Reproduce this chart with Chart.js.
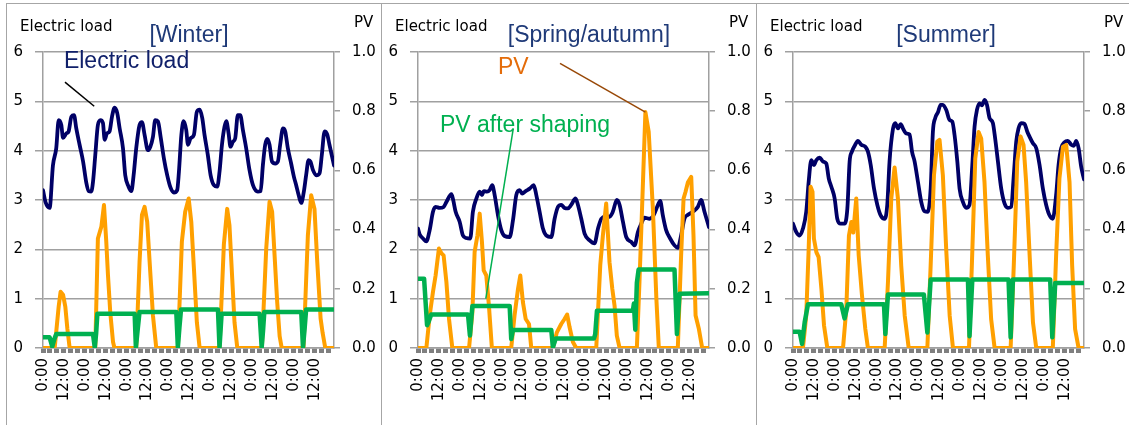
<!DOCTYPE html>
<html>
<head>
<meta charset="utf-8">
<title>Electric load and PV by season</title>
<script src="https://cdn.jsdelivr.net/npm/chart.js@4.4.0/dist/chart.umd.min.js"></script>
<style>
  html, body { margin: 0; padding: 0; background: #ffffff; }
  body { position: relative; width: 1129px; height: 425px; overflow: hidden; }
  canvas { position: absolute; top: 0; }
  .rule { position: absolute; background: #a6a6a6; }
</style>
</head>
<body>
<div class="rule" style="left:6px;top:3px;width:1123px;height:1px"></div>
<div class="rule" style="left:6px;top:3px;width:1px;height:422px"></div>
<div class="rule" style="left:381px;top:3px;width:1px;height:422px"></div>
<div class="rule" style="left:756px;top:3px;width:1px;height:422px"></div>
<canvas id="winter" width="373" height="425" style="left:7px"></canvas>
<canvas id="spring" width="373" height="425" style="left:382px"></canvas>
<canvas id="summer" width="373" height="425" style="left:757px"></canvas>
<script>
// Hour of the week (0-167) paired with value. Load on the left axis, PV (per unit) on the right axis.
const winterLoad = [[0,3.2],[1.5,2.95],[3.8,2.84],[5.7,3.7],[7.6,4.05],[9,4.62],[10.5,4.52],[11.5,4.26],[13.4,4.35],[14.7,4.39],[16.3,4.69],[17.8,4.72],[19.1,4.45],[21,4.12],[23,3.78],[24.9,3.34],[26.2,3.18],[27.7,3.17],[28.7,3.37],[30,3.91],[31.5,4.52],[33,4.62],[34.4,4.56],[35.4,4.22],[36.7,4.35],[38.2,4.39],[39.6,4.69],[41.1,4.87],[42.6,4.76],[44,4.45],[45.9,4.05],[47.2,3.5],[49.1,3.27],[50.7,3.18],[52,3.5],[53.5,4.05],[55.4,4.52],[56.8,4.58],[58.3,4.32],[60.2,4.01],[61.6,4.08],[63.1,4.28],[64.4,4.62],[66,4.59],[67.5,4.28],[69.4,3.84],[71.3,3.5],[73.2,3.25],[75.1,3.15],[77,3.2],[78,3.57],[79.4,4.32],[80.7,4.6],[82.2,4.42],[83.2,4.12],[84.7,4.25],[86.6,4.32],[88.3,4.79],[89.9,4.83],[91.4,4.66],[92.7,4.32],[94.6,3.91],[96.2,3.5],[98.1,3.3],[100,3.27],[101.3,3.57],[102.7,4.12],[104.2,4.49],[105.2,4.6],[106.5,4.35],[107.6,4.08],[109,4.18],[110.3,4.25],[111.8,4.72],[113.2,4.72],[114.7,4.42],[116.6,4.05],[118.5,3.61],[120.5,3.3],[123.3,3.17],[124.9,3.18],[126.2,3.71],[127.5,4.12],[128.7,4.24],[130,4.12],[131.4,3.78],[133.3,3.74],[134.8,3.78],[136.1,4.12],[137.7,4.45],[139,4.39],[140.5,4.05],[142.4,3.74],[144,3.47],[145.3,3.3],[146.7,3.1],[148.2,2.94],[149.7,3.17],[151,3.5],[152.4,3.81],[153.5,3.78],[154.9,3.61],[156.8,3.5],[158.7,3.54],[160,3.91],[161.6,4.39],[163.1,4.33],[164.4,4.12],[167,3.7]];
const winterPV = [[0,0],[6.7,0],[9,0.14],[10.1,0.19],[11.5,0.18],[12.8,0.14],[14,0.064],[15.3,0],[30,0],[31.5,0.37],[33.5,0.41],[35,0.483],[36.3,0.36],[37.3,0.245],[38.6,0.12],[40.2,0.02],[41,0],[53.5,0],[55.4,0.29],[56.8,0.45],[58.3,0.477],[59.8,0.426],[61.2,0.29],[63.1,0.11],[65,0],[77.4,0],[79.7,0.36],[81.6,0.46],[83.6,0.505],[85.1,0.426],[86.6,0.27],[88.3,0.087],[89.9,0],[101.3,0],[103.8,0.35],[105.7,0.47],[107,0.415],[108.6,0.234],[109.9,0.087],[111.5,0],[125.6,0],[128.1,0.336],[130,0.494],[131.5,0.46],[132.9,0.313],[134.4,0.155],[135.8,0.04],[137,0],[149.5,0],[152,0.38],[153.9,0.516],[155.8,0.47],[157.4,0.29],[159.3,0.1],[160.5,0.05],[162,0],[167,0]];
const winterShaped = [[0,0.036],[3.8,0.036],[5.3,0.005],[6.5,0.03],[7.6,0.047],[28.7,0.047],[29.7,0.002],[30.5,0.05],[31.2,0.116],[52.6,0.116],[53.3,0.002],[54.3,0.06],[55.4,0.122],[76.5,0.122],[77.4,0.002],[78.3,0.07],[79.2,0.13],[100.4,0.13],[101.3,0.002],[102.5,0.116],[124.3,0.116],[125.5,0.002],[126.3,0.06],[127,0.122],[148.2,0.122],[149.2,0.002],[150.2,0.07],[151,0.13],[167,0.13]];

const springLoad = [[0,2.42],[1,2.3],[2.9,2.22],[4.8,2.16],[6.7,2.39],[8.6,2.76],[10.1,2.86],[12.4,2.84],[14.7,2.86],[16.3,2.96],[19.2,3.12],[20.2,3.0],[21.6,2.76],[23.9,2.56],[25.8,2.28],[27.7,2.23],[30,2.22],[31.5,2.76],[33.5,3.03],[35.4,3.17],[36.7,3.1],[37.8,3.18],[39.6,3.17],[41.1,3.2],[42.6,3.3],[44,3.1],[45.9,2.69],[47.8,2.39],[49.7,2.27],[52.6,2.25],[54.5,2.59],[56.4,3.1],[58.3,3.2],[59.8,3.13],[61.8,3.18],[64.1,3.23],[66.4,3.3],[67.9,3.1],[69.8,2.76],[71.7,2.42],[73.6,2.28],[76.5,2.25],[78.4,2.62],[80.3,2.86],[82.2,2.9],[84.1,2.84],[86,2.83],[87.9,2.9],[90.4,3.03],[91.8,2.9],[93.7,2.62],[95.6,2.32],[98.5,2.18],[101.3,2.12],[103.3,2.42],[105.2,2.62],[107.6,2.66],[109.9,2.66],[111.8,2.76],[114.1,3.0],[115.7,2.9],[117.6,2.56],[119.5,2.25],[122.4,2.15],[124.3,2.08],[126.2,2.35],[128.1,2.52],[130,2.64],[132.9,2.62],[135.2,2.69],[137.7,2.9],[139,2.98],[140.5,2.69],[142.4,2.39],[144.7,2.22],[147.2,2.08],[149.1,2.03],[151,2.28],[152.9,2.62],[154.9,2.7],[157.7,2.76],[160.6,2.86],[162.5,3.0],[164.4,2.76],[167,2.45]];
const springPV = [[0,0],[4.8,0],[6.7,0.11],[8.6,0.19],[10.1,0.245],[12,0.336],[13.4,0.32],[14.7,0.313],[16.3,0.223],[17.8,0.098],[19.7,0],[29.3,0],[31.2,0.12],[32.5,0.325],[34.1,0.38],[35.4,0.454],[36.7,0.358],[37.7,0.262],[39.2,0.245],[40.7,0.143],[42.4,0],[53.5,0],[55.4,0.11],[57.4,0.2],[58.7,0.245],[60.2,0.155],[61.8,0.098],[63.7,0.081],[65,0],[77.4,0],[79.7,0.053],[82.2,0.081],[84.1,0.098],[85.6,0.113],[87,0.07],[88.9,0.02],[90.8,0],[102.3,0],[104.6,0.28],[106.1,0.38],[108,0.488],[109.9,0.29],[111.5,0.2],[112.8,0.143],[114.1,0.042],[115.7,0],[125.6,0],[127.1,0.223],[129.1,0.56],[130.5,0.797],[132.4,0.73],[134.8,0.47],[136.8,0.166],[138.2,0],[149.1,0],[151,0.313],[152.4,0.505],[153.5,0.527],[154.9,0.56],[156.8,0.578],[158.1,0.38],[159.3,0.11],[161.2,0.064],[163.1,0],[167,0]];
const springShaped = [[0,0.234],[3.5,0.234],[5.2,0.077],[6.2,0.09],[7.6,0.113],[28.7,0.113],[29.8,0.042],[31.2,0.142],[52.6,0.142],[53.5,0.03],[54.5,0.061],[76.5,0.061],[77.4,0.002],[79,0.032],[101,0.032],[101.7,0.047],[102.7,0.126],[123.3,0.126],[123.9,0.15],[124.7,0.062],[125.6,0.22],[126.6,0.265],[147.2,0.265],[148.6,0.047],[150.1,0.183],[167,0.185]];

const summerLoad = [[0,2.52],[1.9,2.35],[3.8,2.28],[5.7,2.42],[7.6,2.76],[9,3.37],[10.5,3.81],[12,3.71],[13.4,3.81],[15.3,3.86],[17.2,3.78],[19.1,3.74],[20.5,3.44],[22,3.27],[23.9,3.03],[25.4,2.62],[27.3,2.52],[29.6,2.52],[31.2,2.83],[32.5,3.78],[33.8,3.98],[35.4,4.1],[37.3,4.2],[39.2,4.12],[41.5,4.08],[43,3.98],[44.6,3.71],[46.5,3.23],[48.4,2.9],[50.3,2.69],[52.6,2.62],[54.1,2.9],[55.4,3.78],[57.4,4.45],[58.7,4.56],[60.2,4.45],[61.8,4.54],[63.1,4.45],[65,4.35],[66.9,4.33],[68.3,3.98],[69.8,3.78],[71.7,3.37],[73.6,2.96],[75.5,2.77],[77.4,2.76],[79,3.23],[80.3,4.39],[81.6,4.66],[83.2,4.78],[84.7,4.93],[86,4.93],[87.9,4.83],[89.9,4.62],[91.4,4.59],[92.7,4.32],[94.3,3.78],[95.6,3.23],[97.5,2.96],[99.4,2.84],[101.3,2.9],[102.9,3.71],[104.2,4.49],[105.6,4.83],[107.1,4.96],[108.4,4.92],[110,5.03],[111.3,4.93],[112.8,4.66],[114.7,4.56],[116,4.25],[117.6,3.78],[119.5,3.23],[121.4,2.93],[123.3,2.84],[125.2,2.86],[126.7,3.5],[128.1,4.18],[129.4,4.45],[131,4.56],[132.9,4.54],[134.4,4.39],[135.8,4.28],[137.7,4.15],[139.6,4.05],[141.5,3.71],[143.4,3.23],[145.3,2.9],[147.2,2.69],[149.1,2.62],[151,3.1],[152.4,3.71],[153.9,4.05],[155.8,4.17],[157.7,4.2],[159.7,4.12],[161.2,4.1],[162.5,4.2],[163.9,4.05],[165.4,3.67],[167,3.42]];
const summerPV = [[0,0],[5.7,0],[7.6,0.11],[9,0.336],[10.1,0.545],[11.2,0.528],[12,0.37],[13.4,0.324],[14.7,0.307],[16.3,0.2],[17.8,0.076],[19.7,0],[28.7,0],[30.6,0.132],[32.1,0.38],[33.5,0.426],[34.6,0.39],[36.3,0.505],[37.7,0.313],[39.6,0.177],[41.5,0.064],[43,0],[52.6,0],[54.5,0.223],[56.4,0.505],[58.3,0.61],[60.2,0.505],[62.1,0.279],[64.1,0.11],[66.4,0],[77.1,0],[79,0.279],[80.9,0.584],[82.8,0.697],[84.1,0.703],[86,0.584],[87.9,0.336],[89.9,0.11],[91.8,0],[101,0],[102.7,0.29],[104.6,0.64],[106.5,0.73],[108,0.708],[109.9,0.56],[111.8,0.313],[113.7,0.098],[115.7,0],[124.9,0],[126.7,0.279],[128.7,0.63],[130.6,0.715],[132.3,0.686],[133.8,0.56],[135.8,0.313],[137.7,0.087],[139.6,0],[149.1,0],[151,0.313],[152.9,0.573],[154.9,0.68],[156.8,0.686],[158.7,0.56],[160.2,0.279],[161.9,0.064],[163.9,0],[167,0]];
const summerShaped = [[0,0.055],[3.8,0.055],[5.2,0.014],[6.7,0.087],[8.6,0.148],[27.7,0.148],[29.6,0.1],[31.5,0.148],[52.2,0.148],[53,0.047],[54.5,0.181],[75.1,0.181],[77.1,0.052],[79,0.231],[100.4,0.231],[101.3,0.04],[102.9,0.231],[123.7,0.231],[124.9,0.036],[126.2,0.231],[147.6,0.231],[148.8,0.036],[150.5,0.22],[167,0.22]];

// Axis text
const hourTickLabels = { 0: '0:00', 12: '12:00' };
const loadTicks = [0, 1, 2, 3, 4, 5, 6];
const pvTicks = [0, 0.2, 0.4, 0.6, 0.8, 1.0];
const leftAxisTitle = 'Electric load';
const rightAxisTitle = 'PV';

const NAVY = '#000066';
const ORANGE = '#ffa000';
const GREEN = '#00b050';
const GRID = '#a0a0a0';
const TICK_FONT = { family: 'DejaVu Sans', size: 15 };
const NOTE_FONT = '23px "Liberation Sans", Arial, sans-serif';

const toXY = pairs => pairs.map(([x, y]) => ({ x, y }));
const peakOf = pairs => pairs.reduce((a, b) => (b[1] > a[1] ? b : a));

// Text annotations and leader lines, positioned in axis units
const panels = [
  {
    id: 'winter', load: winterLoad, pv: winterPV, shaped: winterShaped,
    notes: [
      { text: '[Winter]', x: 83.8, y: 6.2, axis: 'y', color: '#1f3a78', align: 'center' },
      { text: 'Electric load', x: 12, y: 5.68, axis: 'y', color: '#10206a', align: 'left' }
    ],
    leaders: [
      { from: [12.6, 5.39, 'y'], to: [29.4, 4.9, 'y'], color: '#000000' }
    ]
  },
  {
    id: 'spring', load: springLoad, pv: springPV, shaped: springShaped,
    notes: [
      { text: '[Spring/autumn]', x: 98.1, y: 6.2, axis: 'y', color: '#1f3a78', align: 'center' },
      { text: 'PV', x: 45.9, y: 5.56, axis: 'y', color: '#e46c0a', align: 'left' },
      { text: 'PV after shaping', x: 12.6, y: 4.38, axis: 'y', color: GREEN, align: 'left' }
    ],
    leaders: [
      { from: [81.5, 5.77, 'y'], to: [...peakOf(springPV), 'y2'], color: '#984807' },
      { from: [54.7, 4.45, 'y'], to: [38.9, 1.0, 'y'], color: GREEN }
    ]
  },
  {
    id: 'summer', load: summerLoad, pv: summerPV, shaped: summerShaped,
    notes: [
      { text: '[Summer]', x: 87.8, y: 6.2, axis: 'y', color: '#1f3a78', align: 'center' }
    ],
    leaders: []
  }
];

const annotationPlugin = {
  id: 'seasonNotes',
  afterDatasetsDraw(chart, args, opts) {
    const { ctx, chartArea, scales } = chart;
    const px = (x, y, axis) => [scales.x.getPixelForValue(x), scales[axis].getPixelForValue(y)];
    ctx.save();
    // axis titles above the plot
    ctx.font = '15px "DejaVu Sans", sans-serif';
    ctx.fillStyle = '#000000';
    ctx.textAlign = 'left';
    ctx.textBaseline = 'alphabetic';
    ctx.fillText(leftAxisTitle, chartArea.left - 23, 31);
    ctx.fillText(rightAxisTitle, chartArea.right + 20, 27);
    // leader lines
    opts.leaders.forEach(l => {
      const a = px(l.from[0], l.from[1], l.from[2]);
      const b = px(l.to[0], l.to[1], l.to[2]);
      ctx.beginPath();
      ctx.moveTo(a[0], a[1]);
      ctx.lineTo(b[0], b[1]);
      ctx.strokeStyle = l.color;
      ctx.lineWidth = 1.5;
      ctx.stroke();
    });
    // labels
    ctx.font = NOTE_FONT;
    opts.notes.forEach(n => {
      const p = px(n.x, n.y, n.axis);
      ctx.fillStyle = n.color;
      ctx.textAlign = n.align;
      ctx.fillText(n.text, p[0], p[1]);
    });
    ctx.restore();
  }
};

panels.forEach(p => {
  new Chart(document.getElementById(p.id), {
    type: 'line',
    data: {
      datasets: [
        { label: 'PV after shaping', data: toXY(p.shaped), yAxisID: 'y2', borderColor: GREEN, borderWidth: 4.5, order: 0 },
        { label: 'PV', data: toXY(p.pv), yAxisID: 'y2', borderColor: ORANGE, borderWidth: 4, order: 1 },
        { label: 'Electric load', data: toXY(p.load), yAxisID: 'y', borderColor: NAVY, borderWidth: 3.8, order: 2, cubicInterpolationMode: 'monotone' }
      ]
    },
    options: {
      responsive: false,
      animation: false,
      devicePixelRatio: 1,
      layout: { padding: { top: 52, left: 0, right: 0, bottom: 0 } },
      elements: {
        point: { radius: 0, hoverRadius: 0 },
        line: { borderJoinStyle: 'round', borderCapStyle: 'round', fill: false }
      },
      plugins: {
        legend: { display: false },
        tooltip: { enabled: false },
        seasonNotes: { notes: p.notes, leaders: p.leaders }
      },
      scales: {
        x: {
          type: 'linear', min: 0, max: 167,
          afterBuildTicks(scale) {
            const t = [];
            for (let h = 0; h < 168; h += 4) t.push({ value: h });
            scale.ticks = t;
          },
          afterFit(scale) { scale.height = 77; },
          grid: { drawOnChartArea: false, drawTicks: true, tickLength: 5, tickWidth: 5, tickColor: '#7f7f7f' },
          border: { display: true, color: GRID, width: 1.5 },
          ticks: {
            autoSkip: false, maxRotation: 90, minRotation: 90, padding: 5,
            font: TICK_FONT, color: '#000000',
            callback: v => hourTickLabels[v % 24] || ''
          }
        },
        y: {
          position: 'left', min: 0, max: 6,
          afterBuildTicks(scale) { scale.ticks = loadTicks.map(v => ({ value: v })); },
          afterFit(scale) { scale.width = 36; },
          grid: { color: GRID, lineWidth: 1.5, tickLength: 8 },
          border: { color: GRID, width: 1.5 },
          ticks: { padding: 12, font: TICK_FONT, color: '#000000' }
        },
        y2: {
          position: 'right', min: 0, max: 1,
          afterBuildTicks(scale) { scale.ticks = pvTicks.map(v => ({ value: v })); },
          afterFit(scale) { scale.width = 46; },
          grid: { drawOnChartArea: false, color: GRID, lineWidth: 1.5, tickLength: 6 },
          border: { color: GRID, width: 1.5 },
          ticks: { padding: 12, font: TICK_FONT, color: '#000000', callback: v => v.toFixed(1) }
        }
      }
    },
    plugins: [annotationPlugin]
  });
});
</script>
</body>
</html>
